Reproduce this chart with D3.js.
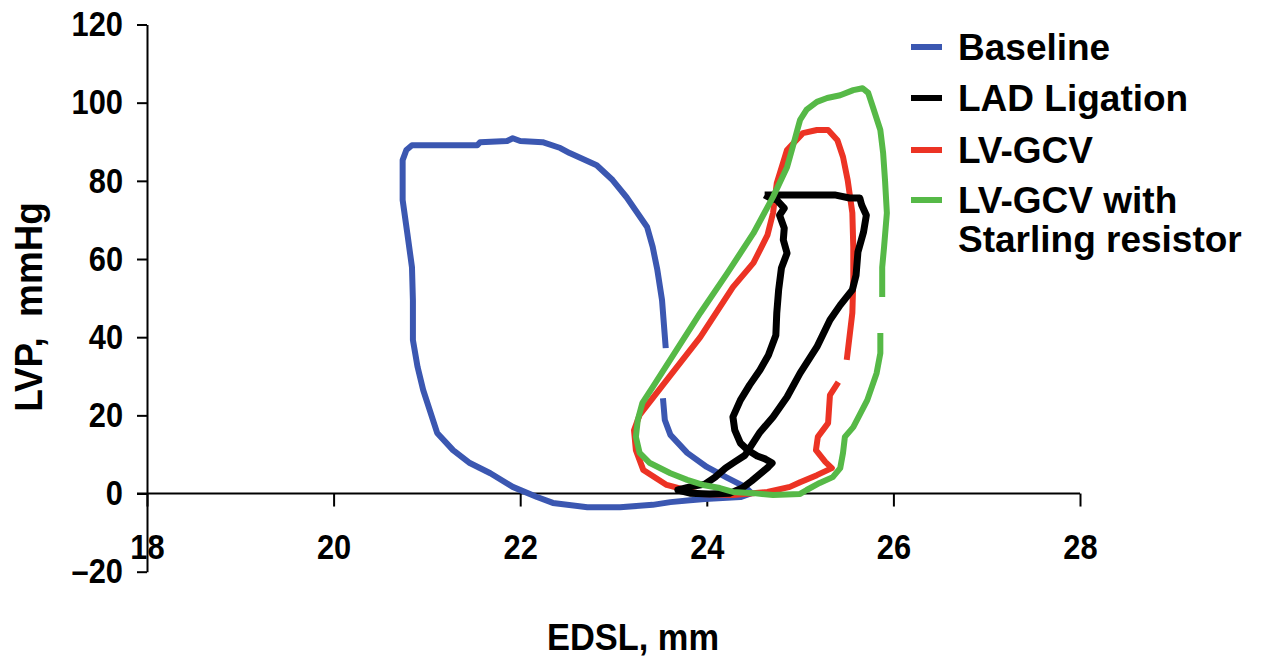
<!DOCTYPE html>
<html>
<head>
<meta charset="utf-8">
<script src="https://cdn.jsdelivr.net/npm/d3@7"></script>
<style>
  body { margin: 0; background: #fff; }
  text { font-family: "Liberation Sans", Arial, sans-serif; font-weight: bold; fill: #000; }
</style>
</head>
<body>
<div id="chart"></div>
<script>
// x = EDSL (mm), y = LVP (mmHg)
const baselineLoop = [
  [23.53, 24.4], [23.55, 18.8], [23.61, 15.0], [23.79, 10.4], [24.00, 6.8], [24.22, 4.0],
  [24.41, 1.7], [24.48, 0.1], [24.36, -0.9], [23.98, -1.4], [23.82, -1.7], [23.61, -2.2],
  [23.42, -2.9], [23.07, -3.5], [22.72, -3.5], [22.35, -2.4], [22.18, -0.9], [21.92, 1.7],
  [21.68, 5.2], [21.46, 7.8], [21.28, 11.1], [21.11, 15.5], [20.96, 26.5], [20.90, 32.4],
  [20.85, 39.3], [20.85, 49.5], [20.84, 57.9], [20.79, 66.6], [20.74, 75.1], [20.74, 85.3],
  [20.78, 87.9], [20.84, 89.1], [21.54, 89.1], [21.57, 89.9], [21.86, 90.2], [21.92, 90.9],
  [22.00, 90.2], [22.24, 89.9], [22.43, 88.4], [22.53, 87.1], [22.82, 84.0], [22.99, 80.2],
  [23.14, 75.8], [23.36, 68.2], [23.42, 63.1], [23.47, 57.2], [23.52, 49.5], [23.56, 37.2]
];

const ladLoop = [
  [24.62, 76.4], [25.00, 76.4], [25.37, 76.4], [25.53, 75.6], [25.64, 75.6], [25.66, 73.8],
  [25.71, 71.2], [25.68, 66.9], [25.62, 61.8], [25.60, 55.9], [25.56, 52.1], [25.43, 48.2],
  [25.32, 44.4], [25.18, 37.5], [25.00, 30.8], [24.86, 24.7], [24.71, 19.6], [24.57, 15.7],
  [24.48, 12.4], [24.41, 9.8], [24.30, 8.1], [24.20, 6.5], [24.09, 4.2], [23.98, 2.4],
  [23.82, 1.7], [23.69, 0.9], [23.82, 0.1], [24.03, -0.1], [24.25, 0.1], [24.38, 1.4],
  [24.48, 3.2], [24.57, 5.0], [24.66, 6.8], [24.70, 7.8], [24.63, 8.8], [24.54, 9.6],
  [24.44, 11.1], [24.36, 12.9], [24.30, 16.2], [24.28, 19.6], [24.36, 23.9], [24.46, 27.8],
  [24.57, 31.6], [24.66, 35.4], [24.74, 40.5], [24.75, 46.2], [24.77, 52.1], [24.80, 57.7],
  [24.86, 61.5], [24.82, 64.9], [24.83, 67.9], [24.78, 71.2], [24.83, 73.0], [24.75, 75.1],
  [24.68, 75.6], [24.62, 76.4]
];

const gcvLoop = [
  [25.41, 28.5], [25.32, 25.2], [25.30, 18.0], [25.19, 14.5], [25.17, 11.1], [25.27, 8.1],
  [25.34, 6.5], [25.18, 4.7], [25.00, 2.9], [24.89, 1.7], [24.65, 0.4], [24.28, -0.4],
  [23.93, -0.1], [23.57, 2.2], [23.32, 6.0], [23.24, 11.1], [23.22, 16.2], [23.28, 20.1],
  [23.57, 29.0], [23.93, 40.0], [24.28, 52.8], [24.50, 59.0], [24.65, 66.1], [24.71, 71.8],
  [24.75, 79.4], [24.86, 87.9], [25.03, 92.2], [25.18, 93.0], [25.30, 93.0], [25.40, 90.4],
  [25.46, 86.1], [25.51, 80.2], [25.56, 71.8], [25.57, 63.1], [25.57, 54.6], [25.56, 46.2],
  [25.50, 34.2]
];

const starlingLoop = [
  [25.86, 41.1], [25.86, 35.9], [25.82, 30.8], [25.72, 23.9], [25.57, 17.0], [25.48, 14.5],
  [25.46, 10.4], [25.43, 6.5], [25.35, 4.2], [25.21, 2.7], [25.07, 0.9], [25.00, -0.1],
  [24.71, -0.4], [24.50, 0.1], [24.28, 0.4], [24.14, 1.4], [23.96, 2.2], [23.79, 3.5],
  [23.61, 5.2], [23.39, 7.8], [23.28, 10.4], [23.24, 14.5], [23.26, 18.8], [23.31, 23.2],
  [23.42, 27.2], [23.64, 35.4], [23.93, 46.2], [24.22, 56.4], [24.50, 66.6], [24.71, 75.9],
  [24.86, 83.5], [24.92, 88.6], [24.97, 93.0], [25.00, 95.6], [25.07, 98.2], [25.18, 100.2],
  [25.29, 101.2], [25.43, 101.9], [25.57, 103.2], [25.67, 103.7], [25.73, 102.5], [25.78, 98.9],
  [25.86, 93.0], [25.89, 87.1], [25.91, 80.2], [25.93, 71.8], [25.90, 63.1], [25.88, 57.9],
  [25.88, 50.3]
];

const seriesNames = ["Baseline", "LAD Ligation", "LV-GCV", "LV-GCV with\nStarling resistor"];
const seriesColors = ["#3b57b1", "#000000", "#ec3324", "#56b947"];
const xTicks = [18, 20, 22, 24, 26, 28];
const yTicks = [-20, 0, 20, 40, 60, 80, 100, 120];

const W = 1265, H = 658;

const svg = d3.select("#chart").append("svg")
  .attr("width", W)
  .attr("height", H);

const x = d3.scaleLinear().domain([18, 28]).range([147, 1080]);
const y = d3.scaleLinear().domain([-20, 120]).range([571.7, 24.5]);

// squeeze text a bit to get the condensed look of the original
function condense(sel, k) {
  sel.each(function () {
    const len = this.getComputedTextLength();
    d3.select(this).attr("textLength", len * k).attr("lengthAdjust", "spacingAndGlyphs");
  });
}

// y axis
const yAxis = svg.append("g")
  .attr("transform", `translate(${x(18)},0)`)
  .call(d3.axisLeft(y).tickValues(yTicks).tickSize(10).tickSizeOuter(0).tickPadding(14)
    .tickFormat(d => d < 0 ? "\u2013" + Math.abs(d) : d));

// x axis sits on y = 0
const xAxis = svg.append("g")
  .attr("transform", `translate(0,${y(0)})`)
  .call(d3.axisBottom(x).tickValues(xTicks).tickSize(13).tickSizeOuter(0).tickPadding(28));

[yAxis, xAxis].forEach(g => {
  g.selectAll("path.domain").attr("stroke", "#000").attr("stroke-width", 2);
  g.selectAll(".tick line").attr("stroke", "#000").attr("stroke-width", 2);
  g.selectAll(".tick text")
    .style("font-family", "'Liberation Sans', Arial, sans-serif")
    .style("font-weight", "bold")
    .style("font-size", "35px")
    .attr("fill", "#000")
    .call(condense, 0.88);
});
xAxis.select("path.domain").attr("d", `M${x(18) - 10},0H${x(28)}`);

// axis titles
svg.append("text")
  .attr("x", 633)
  .attr("y", 650)
  .attr("text-anchor", "middle")
  .style("font-size", "37px")
  .text("EDSL, mm")
  .call(condense, 0.93);

svg.append("text")
  .attr("transform", "translate(42,307) rotate(-90)")
  .attr("text-anchor", "middle")
  .style("font-size", "38px")
  .attr("xml:space", "preserve")
  .text("LVP,  mmHg")
  .call(condense, 0.97);

// loops
const line = d3.line()
  .x(d => x(d[0]))
  .y(d => y(d[1]));

const loops = [
  { data: baselineLoop, color: seriesColors[0], w: 6 },
  { data: gcvLoop, color: seriesColors[2], w: 6 },
  { data: ladLoop, color: seriesColors[1], w: 7 },
  { data: starlingLoop, color: seriesColors[3], w: 6 }
];

svg.selectAll("path.loop")
  .data(loops)
  .join("path")
  .attr("class", "loop")
  .attr("d", d => line(d.data))
  .attr("fill", "none")
  .attr("stroke", d => d.color)
  .attr("stroke-width", d => d.w)
  .attr("stroke-linejoin", "round");

// legend
const legend = svg.append("g").attr("transform", "translate(911,0)");
const rowY = [47, 98, 150, 200];

seriesNames.forEach((name, i) => {
  legend.append("line")
    .attr("x1", 0).attr("x2", 31)
    .attr("y1", rowY[i]).attr("y2", rowY[i])
    .attr("stroke", seriesColors[i])
    .attr("stroke-width", 6);
  const t = legend.append("text")
    .attr("x", 47)
    .attr("y", rowY[i] + 13)
    .style("font-size", "37px");
  name.split("\n").forEach((part, j) => {
    t.append("tspan")
      .attr("x", 47)
      .attr("dy", j === 0 ? 0 : 39)
      .text(part);
  });
});
</script>
</body>
</html>
